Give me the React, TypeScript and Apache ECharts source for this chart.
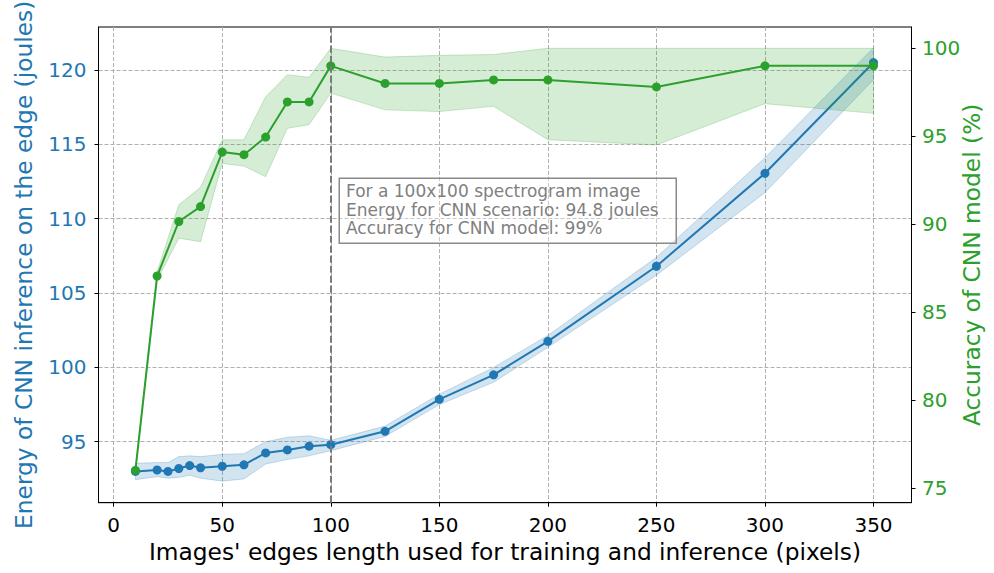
import React, { useEffect, useRef } from "react";
import * as echarts from "echarts";

// Energy (left axis)
const energyX = [10, 20, 25, 30, 35, 40, 50, 60, 70, 80, 90, 100, 125, 150, 175, 200, 250, 300, 350];
const energyMean = [93.0, 93.1, 93.0, 93.2, 93.4, 93.25, 93.35, 93.45, 94.25, 94.45, 94.7, 94.8, 95.7, 97.85, 99.5, 101.75, 106.8, 113.05, 120.5];
const energyLow = [92.45, 92.65, 92.55, 92.6, 92.75, 92.55, 92.35, 92.5, 93.5, 93.8, 94.05, 94.4, 95.35, 97.5, 99.0, 101.35, 106.2, 111.75, 119.35];
const energyHigh = [93.55, 93.6, 93.6, 94.0, 94.05, 94.0, 94.15, 94.2, 95.0, 95.3, 95.4, 95.1, 96.05, 98.2, 100.0, 102.15, 107.4, 114.1, 121.5];

// Accuracy (right axis)
const accX = [10, 20, 30, 40, 50, 60, 70, 80, 90, 100, 125, 150, 175, 200, 250, 300, 350];
const accMean = [76.0, 87.05, 90.15, 91.0, 94.1, 93.95, 94.95, 96.95, 96.95, 99.0, 98.0, 98.0, 98.2, 98.2, 97.8, 99.0, 99.0];
const accLow = [75.9, 86.8, 89.2, 89.0, 93.45, 93.3, 92.7, 95.45, 95.65, 97.45, 96.5, 96.4, 96.7, 94.8, 94.5, 96.85, 96.3];
const accHigh = [76.1, 87.3, 91.1, 92.1, 94.8, 94.8, 97.25, 98.5, 98.35, 100.0, 99.5, 99.6, 99.65, 100.0, 100.0, 100.0, 100.0];

const xTicks = [0, 50, 100, 150, 200, 250, 300, 350];
const leftTicks = [95, 100, 105, 110, 115, 120];
const rightTicks = [75, 80, 85, 90, 95, 100];

const markerX = 100;
const noteLines = [
  "For a 100x100 spectrogram image",
  "Energy for CNN scenario: 94.8 joules",
  "Accuracy for CNN model: 99%",
];

const BLUE = "#1f77b4";
const GREEN = "#2ca02c";
const FONT = "DejaVu Sans";

function bandSeries(xs: number[], lo: number[], hi: number[], yAxisIndex: number, fill: string, edge: string, z: number) {
  return {
    type: "custom",
    yAxisIndex,
    data: xs.map((x, i) => [x, lo[i], hi[i]]),
    encode: { x: 0, y: [1, 2] },
    silent: true,
    clip: true,
    z,
    renderItem: (params: any, api: any) => {
      if (params.dataIndex !== 0) return null;
      const top = xs.map((x, i) => api.coord([x, hi[i]]));
      const bot = xs.map((x, i) => api.coord([x, lo[i]])).reverse();
      return {
        type: "polygon",
        shape: { points: top.concat(bot) },
        style: { fill, stroke: edge, lineWidth: 1 },
      };
    },
  };
}

export default function App() {
  const ref = useRef<HTMLDivElement>(null);
  useEffect(() => {
    if (!ref.current) return;
    const chart = echarts.init(ref.current, null, { renderer: "svg" });
    const pairs = (xs: number[], ys: number[]) => xs.map((x, i) => [x, ys[i]]);
    const gridLine = { show: true, lineStyle: { color: "#b0b0b0", width: 1, type: [4, 2] } };

    chart.setOption({
      animation: false,
      textStyle: { fontFamily: FONT },
      grid: {
        left: 98.5,
        right: 82.5,
        top: 27,
        bottom: 70.3,
        containLabel: false,
        outerBoundsMode: "none",
        show: true,
        borderColor: "#000",
        borderWidth: 1,
        backgroundColor: "transparent",
      },
      xAxis: {
        type: "value",
        min: -7,
        max: 367.5,
        name: "Images' edges length used for training and inference (pixels)",
        nameLocation: "middle",
        nameGap: 37,
        nameMoveOverlap: false,
        nameTextStyle: { fontSize: 23.3, color: "#000", fontFamily: FONT },
        axisLine: { show: true, onZero: false, lineStyle: { color: "#000", width: 1 } },
        axisTick: { show: true, length: 4, lineStyle: { color: "#000" }, customValues: xTicks },
        axisLabel: { fontSize: 20, color: "#000", margin: 12, customValues: xTicks, fontFamily: FONT },
        splitLine: gridLine,
      },
      yAxis: [
        {
          type: "value",
          position: "left",
          min: 90.9,
          max: 122.89,
          name: "Energy of CNN inference on the edge (joules)",
          nameLocation: "middle",
          nameGap: 64,
          nameMoveOverlap: false,
          nameTextStyle: { fontSize: 23.3, color: BLUE, fontFamily: FONT },
          axisLine: { show: true, onZero: false, lineStyle: { color: "#000", width: 1 } },
          axisTick: { show: true, length: 4, lineStyle: { color: "#000" }, customValues: leftTicks },
          axisLabel: { fontSize: 20, color: BLUE, margin: 12, customValues: leftTicks, fontFamily: FONT },
          splitLine: gridLine,
        },
        {
          type: "value",
          position: "right",
          min: 74.16,
          max: 101.21,
          name: "Accuracy of CNN model (%)",
          nameLocation: "middle",
          nameGap: 48.5,
          nameMoveOverlap: false,
          nameTextStyle: { fontSize: 23.3, color: GREEN, fontFamily: FONT },
          axisLine: { show: true, onZero: false, lineStyle: { color: "#000", width: 1 } },
          axisTick: { show: true, length: 4, lineStyle: { color: "#000" }, customValues: rightTicks },
          axisLabel: { fontSize: 20, color: GREEN, margin: 10.5, customValues: rightTicks, fontFamily: FONT },
          splitLine: { show: false },
        },
      ],
      series: [
        bandSeries(energyX, energyLow, energyHigh, 0, "rgba(31,119,180,0.2)", "rgba(31,119,180,0.22)", 1),
        {
          type: "line",
          yAxisIndex: 0,
          data: pairs(energyX, energyMean),
          symbol: "circle",
          symbolSize: 9,
          lineStyle: { color: BLUE, width: 2 },
          itemStyle: { color: BLUE },
          z: 2,
        },
        bandSeries(accX, accLow, accHigh, 1, "rgba(44,160,44,0.2)", "rgba(44,160,44,0.22)", 3),
        {
          type: "line",
          yAxisIndex: 1,
          data: pairs(accX, accMean),
          symbol: "circle",
          symbolSize: 9,
          lineStyle: { color: GREEN, width: 2 },
          itemStyle: { color: GREEN },
          z: 4,
          markLine: {
            silent: true,
            symbol: ["none", "none"],
            label: { show: false },
            lineStyle: { color: "#7a7a7a", width: 2, type: [7, 3] },
            data: [{ xAxis: markerX }],
          },
        },
      ],
      graphic: [
        {
          type: "rect",
          left: 338.5,
          top: 177.5,
          shape: { width: 337, height: 65 },
          style: { fill: "rgba(255,255,255,0.3)", stroke: "#8a8a8a", lineWidth: 1.5 },
          z: 10,
        },
        {
          type: "text",
          left: 346,
          top: 181.5,
          style: {
            text: noteLines.join("\n"),
            fontSize: 17,
            lineHeight: 18.7,
            fill: "#808080",
            fontFamily: FONT,
          },
          z: 11,
        },
      ],
    });
    return () => chart.dispose();
  }, []);
  return (
    <div
      ref={ref}
      style={{ position: "fixed", left: 0, top: 0, width: 994, height: 573, background: "#fff" }}
    />
  );
}
